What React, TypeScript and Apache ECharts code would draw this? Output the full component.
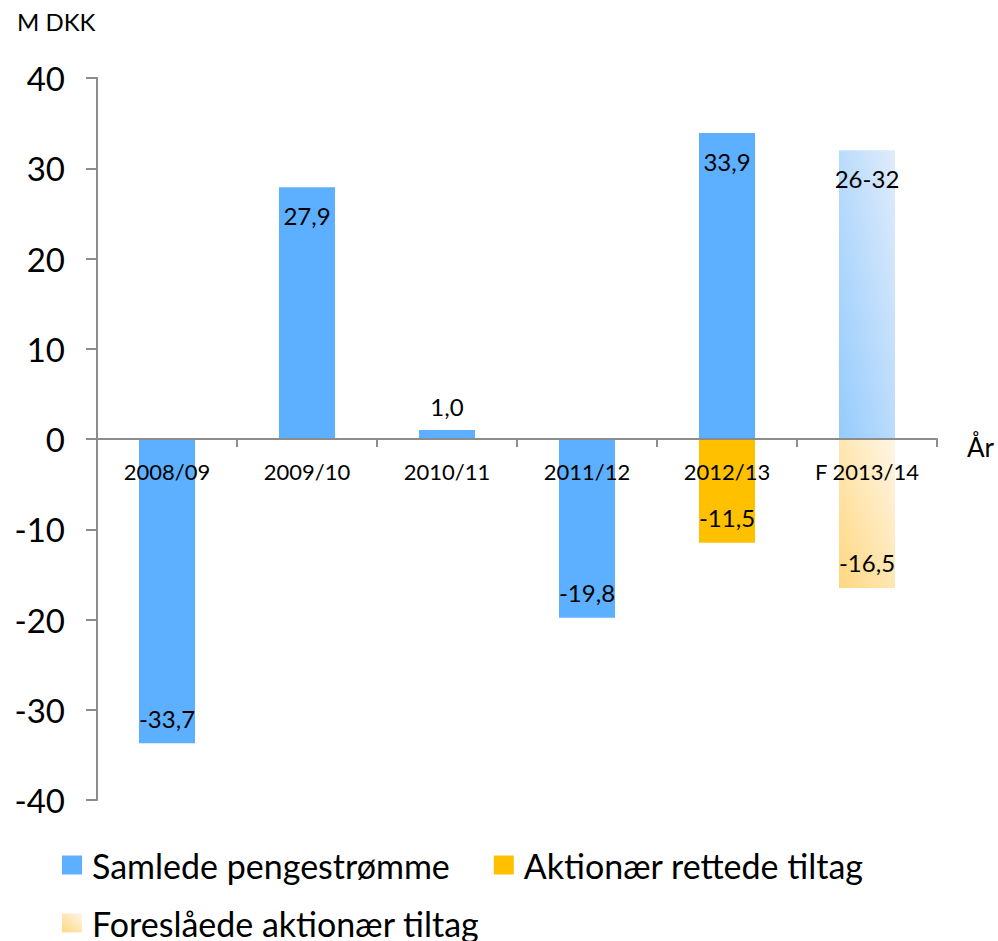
import React, { useEffect, useRef } from "react";
import * as echarts from "echarts";

const categories = ["2008/09", "2009/10", "2010/11", "2011/12", "2012/13", "F 2013/14"];
const samlede: (number | null)[] = [-33.7, 27.9, 1.0, -19.8, 33.9, null];
const aktionaer: (number | null)[] = [null, null, null, null, -11.5, null];
const foreslaaede: (number | null)[] = [null, null, null, null, null, -16.5];
const forventetLow: (number | null)[] = [null, null, null, null, null, 26];
const forventetHigh: (number | null)[] = [null, null, null, null, null, 32];
const yTicks = [-40, -30, -20, -10, 0, 10, 20, 30, 40];

const FONT = "Lato, 'Open Sans', sans-serif";
const fmt = (v: number) => v.toFixed(1).replace(".", ",");

const GRID_TOP = 78;
const GRID_BOTTOM = 141;
const CHART_H = 941;

const labelFor = (v: number | null) => {
  if (v == null) return {};
  if (Math.abs(v) < 3) return { position: "top", distance: 11 };
  if (v < 0) return { position: "insideBottom", distance: 13 };
  return { position: "insideTop", distance: 16 };
};

const toData = (arr: (number | null)[]) =>
  arr.map((v) => (v == null ? null : { value: v, label: labelFor(v) }));

export default function App() {
  const ref = useRef<HTMLDivElement>(null);
  useEffect(() => {
    document.body.style.margin = "0";
    const chart = echarts.init(ref.current!, null, { renderer: "svg" });
    const yMin = yTicks[0];
    const yMax = yTicks[yTicks.length - 1];
    const plotH = CHART_H - GRID_TOP - GRID_BOTTOM;
    // shift x axis up from grid bottom to value zero
    const zeroOffset = -(plotH * (0 - yMin)) / (yMax - yMin);
    const labelBase = {
      show: true,
      color: "#000",
      fontSize: 24,
      fontFamily: FONT,
      formatter: (p: any) => fmt(p.value),
    };
    const blueGrad = new echarts.graphic.LinearGradient(0, 1, 1, 0, [
      { offset: 0, color: "#94cbfd" },
      { offset: 1, color: "#e0ecfb" },
    ]);
    const orangeGrad = new echarts.graphic.LinearGradient(0, 1, 1, 0, [
      { offset: 0, color: "#fed780" },
      { offset: 1, color: "#fff6e6" },
    ]);
    const legendText = { fontSize: 34, fontFamily: FONT, color: "#000", padding: [0, 0, 0, 5] };
    chart.setOption({
      animation: false,
      grid: { left: 97, right: 61, top: GRID_TOP, bottom: GRID_BOTTOM, containLabel: false },
      graphic: [
        { type: "text", left: 17, top: 9, style: { text: "M DKK", fontSize: 24, fontFamily: FONT, fill: "#000" } },
        { type: "text", left: 967, top: 434, style: { text: "År", fontSize: 26, fontFamily: FONT, fill: "#000" } },
      ],
      legend: [
        {
          data: ["Samlede pengestrømme", "Aktionær rettede tiltag"],
          left: 62,
          top: 848,
          padding: 0,
          icon: "rect",
          itemWidth: 20,
          itemHeight: 19,
          itemGap: 44,
          textStyle: legendText,
        },
        {
          data: ["Foreslåede aktionær tiltag"],
          left: 62,
          top: 906,
          padding: 0,
          icon: "rect",
          itemWidth: 20,
          itemHeight: 19,
          textStyle: legendText,
        },
      ],
      xAxis: {
        type: "category",
        data: categories,
        z: 10,
        offset: zeroOffset,
        axisLine: { onZero: false, lineStyle: { color: "#8c8c8c", width: 2 } },
        axisTick: { show: true, alignWithLabel: false, length: 8, lineStyle: { color: "#8c8c8c", width: 2 } },
        axisLabel: { interval: 0, margin: 21, fontSize: 22, fontFamily: FONT, color: "#000" },
        splitLine: { show: false },
      },
      yAxis: {
        type: "value",
        min: yMin,
        max: yMax,
        interval: 10,
        axisLine: { show: true, lineStyle: { color: "#8c8c8c", width: 2 } },
        axisTick: { show: true, length: 11, lineStyle: { color: "#8c8c8c", width: 2 } },
        axisLabel: { margin: 32, fontSize: 33, fontFamily: FONT, color: "#000" },
        splitLine: { show: false },
      },
      series: [
        {
          name: "Samlede pengestrømme",
          type: "bar",
          stack: "a",
          barWidth: 56,
          itemStyle: { color: "#5cb0ff" },
          label: labelBase,
          data: toData(samlede),
        },
        {
          name: "Aktionær rettede tiltag",
          type: "bar",
          stack: "a",
          barWidth: 56,
          itemStyle: { color: "#ffc000" },
          label: labelBase,
          data: toData(aktionaer),
        },
        {
          name: "Forventet pengestrøm",
          type: "bar",
          stack: "a",
          barWidth: 56,
          itemStyle: { color: blueGrad },
          label: {
            ...labelBase,
            formatter: (p: any) => `${forventetLow[p.dataIndex]}-${forventetHigh[p.dataIndex]}`,
          },
          data: toData(forventetHigh),
        },
        {
          name: "Foreslåede aktionær tiltag",
          type: "bar",
          stack: "a",
          barWidth: 56,
          itemStyle: { color: orangeGrad },
          label: labelBase,
          data: toData(foreslaaede),
        },
      ],
    });
    return () => chart.dispose();
  }, []);
  return <div ref={ref} style={{ width: 998, height: 941 }} />;
}
